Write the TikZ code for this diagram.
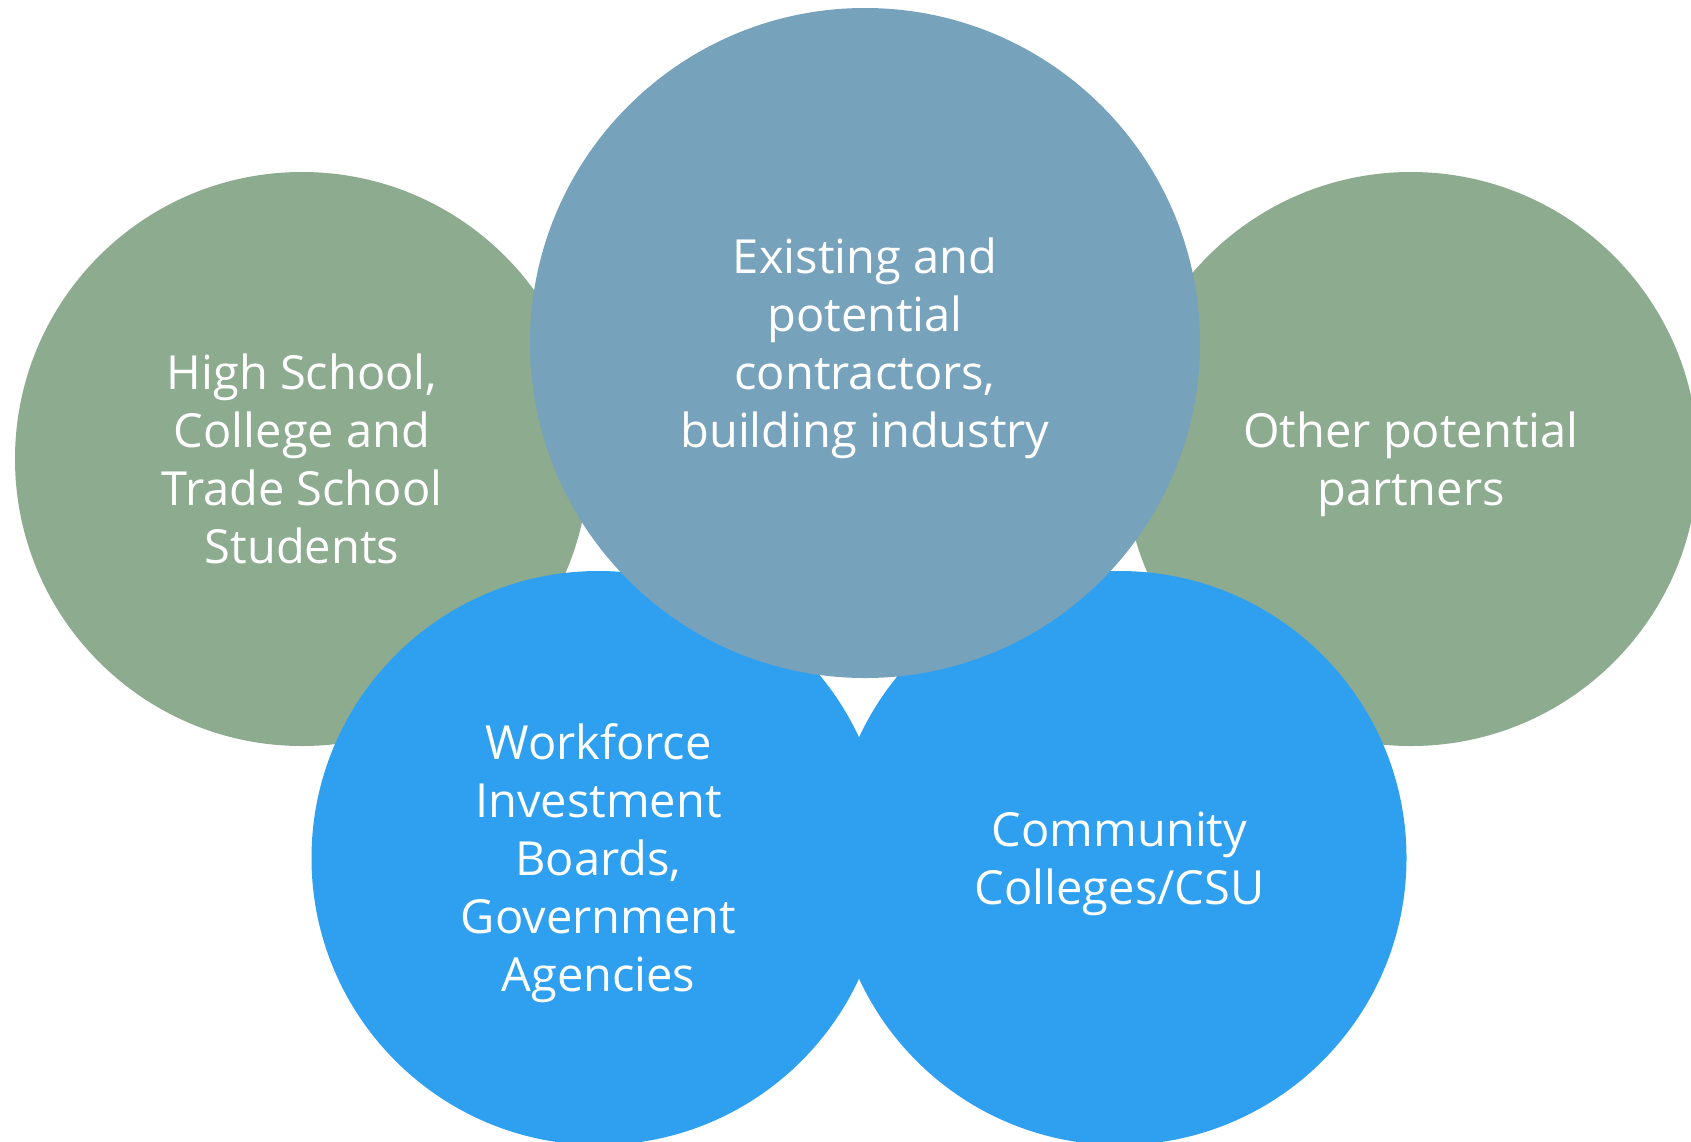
\documentclass[tikz,border=0pt]{standalone}
\usepackage{fontspec}
\setmainfont{Open Sans}
\definecolor{sage}{RGB}{141,171,143}
\definecolor{steel}{RGB}{119,162,188}
\definecolor{sky}{RGB}{47,160,240}
\begin{document}
\begin{tikzpicture}[x=1bp,y=-1bp,
  bubble/.style={circle, inner sep=0pt, minimum size=574bp, text=white, align=center,
    text depth=0pt, font=\fontsize{47bp}{58bp}\selectfont}]
\useasboundingbox (0,0) rectangle (1691,1141);
\node[bubble, fill=sage] (hs) at (302,459) {High School,\\College and\\Trade School\\Students};
\node[bubble, fill=sage] (op) at (1411,459) {Other potential\\partners};
\node[bubble, fill=sky] (wf) at (598.5,858) {Workforce\\Investment\\Boards,\\Government\\Agencies};
\node[bubble, fill=sky] (cc) at (1119.5,858) {Community\\Colleges/CSU};
\node[bubble, fill=steel, minimum size=670bp] (ex) at (865,343) {Existing and\\potential\\contractors,\\building industry};
\end{tikzpicture}
\end{document}
